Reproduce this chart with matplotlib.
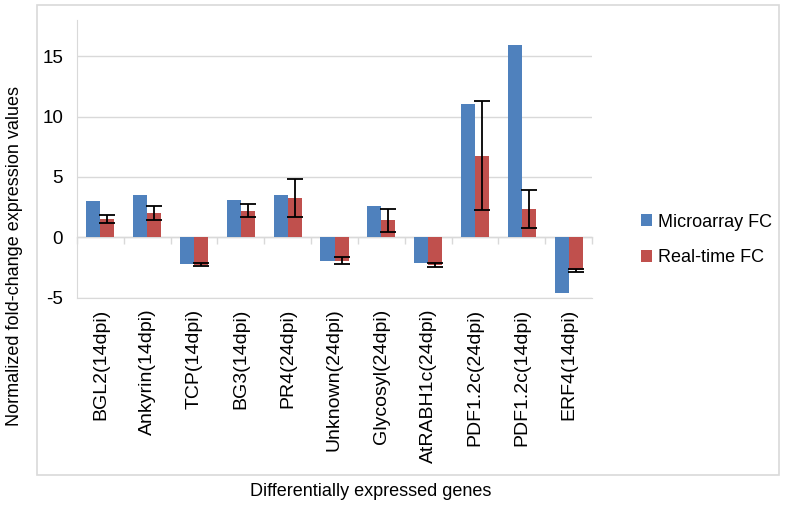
import matplotlib
matplotlib.use("Agg")
import matplotlib.pyplot as plt
import numpy as np
from matplotlib.patches import Patch, Rectangle

plt.rcParams['font.family'] = ['Liberation Sans', 'DejaVu Sans']

genes = ["BGL2(14dpi)", "Ankyrin(14dpi)", "TCP(14dpi)", "BG3(14dpi)", "PR4(24dpi)",
         "Unknown(24dpi)", "Glycosyl(24dpi)", "AtRABH1c(24dpi)", "PDF1.2c(24dpi)",
         "PDF1.2c(14dpi)", "ERF4(14dpi)"]
microarray_fc = [3.0, 3.5, -2.25, 3.1, 3.5, -2.0, 2.6, -2.1, 11.0, 15.9, -4.6]
realtime_fc = [1.5, 2.0, -2.3, 2.2, 3.25, -1.95, 1.4, -2.3, 6.75, 2.35, -2.75]
realtime_err = [0.35, 0.55, 0.12, 0.55, 1.6, 0.3, 0.95, 0.18, 4.5, 1.55, 0.12]
series_names = ["Microarray FC", "Real-time FC"]
yticks = [-5, 0, 5, 10, 15]

blue = "#4F81BD"
red = "#C0504D"
grid = "#D9D9D9"

W, H = 785, 507
fig = plt.figure(figsize=(W / 100, H / 100), dpi=100)

# outer chart frame
fig.patches.append(Rectangle((37 / W, 1 - 475 / H), (779 - 37) / W, (475 - 5) / H,
                             transform=fig.transFigure, fill=False,
                             edgecolor=grid, linewidth=1.2))

ax = fig.add_axes([77 / W, 1 - 297.5 / H, (592 - 77) / W, (297.5 - 20) / H])

x = np.arange(len(genes))
bw = 0.3
ax.bar(x - bw / 2, microarray_fc, bw, color=blue, zorder=3)
ax.bar(x + bw / 2, realtime_fc, bw, color=red, zorder=3)
ax.errorbar(x + bw / 2, realtime_fc, yerr=realtime_err, fmt="none", ecolor="black",
            elinewidth=1.3, capsize=5.5, capthick=1.3, zorder=4)

ymin, ymax = -5, 18
ax.set_xlim(-0.5, len(genes) - 0.5)
ax.set_ylim(ymin, ymax)
ax.set_yticks(yticks)
ax.set_yticklabels([str(v) for v in yticks], fontsize=13.5)
ax.tick_params(axis="y", length=0, pad=10)
ax.yaxis.grid(True, color=grid, linewidth=1, zorder=0)
ax.set_axisbelow(True)

ax.set_xticks(x)
ax.set_xticklabels(genes, rotation=90, fontsize=14, va="top", ha="center")
ax.tick_params(axis="x", length=0, pad=8)

for s in ["top", "right"]:
    ax.spines[s].set_visible(False)
ax.spines["left"].set_color(grid)
ax.spines["bottom"].set_color(grid)

# category axis crossing at zero with boundary tick marks
sec = ax.secondary_xaxis((0 - ymin) / (ymax - ymin))
sec.set_xticks(np.arange(len(genes) + 1) - 0.5)
sec.set_xticklabels([])
sec.tick_params(axis="x", direction="out", length=5, color=grid, width=1)
sec.spines["bottom"].set_color(grid)
sec.spines["bottom"].set_linewidth(1)
sec.set_zorder(2)

fig.text(15 / W, 1 - 256 / H, "Normalized fold-change expression values",
         rotation=90, ha="center", va="center", fontsize=13)
fig.text(371 / W, 1 - 492 / H, "Differentially expressed genes",
         ha="center", va="center", fontsize=13)

handles = [Patch(facecolor=blue, label=series_names[0]),
           Patch(facecolor=red, label=series_names[1])]
fig.legend(handles=handles, loc="center left", bbox_to_anchor=(634 / W, 1 - 240 / H),
           frameon=False, fontsize=13, handlelength=0.6, handleheight=0.6,
           handletextpad=0.35, labelspacing=1.05, borderaxespad=0)

fig.savefig("out.png", dpi=100)
